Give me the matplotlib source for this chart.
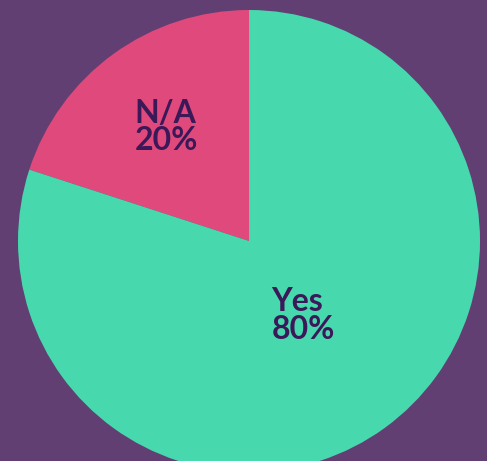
import numpy as np
import matplotlib
matplotlib.use("Agg")
import matplotlib.pyplot as plt

labels = ["N/A", "Yes"]
values = [20, 80]
colors = ["#e0497c", "#48d8ae"]
label_dist = [0.61, 0.40]

bg = "#623f73"
text_color = "#3b1858"

fig = plt.figure(figsize=(4.87, 4.61), dpi=100, facecolor=bg)
ax = fig.add_axes([0, 0, 1, 1])
ax.set_facecolor(bg)

cx, cy, r = 249, 220, 231
wedges, _ = ax.pie(values, colors=colors, startangle=90, counterclock=True,
                   center=(cx, cy), radius=r, frame=True,
                   wedgeprops=dict(linewidth=0))

for w, lab, v, d in zip(wedges, labels, values, label_dist):
    mid = np.deg2rad((w.theta1 + w.theta2) / 2)
    x = cx + d * r * np.cos(mid)
    y = cy + d * r * np.sin(mid)
    ax.text(x, y, f"{lab}\n{v}%", ha="center", va="center",
            multialignment="left",
            fontsize=23, fontweight="bold", family="Lato",
            color=text_color, linespacing=0.95)

ax.set_xlim(0, 487)
ax.set_ylim(0, 461)
ax.set_aspect("equal")
ax.axis("off")

fig.savefig("out.png", dpi=100, facecolor=bg)
